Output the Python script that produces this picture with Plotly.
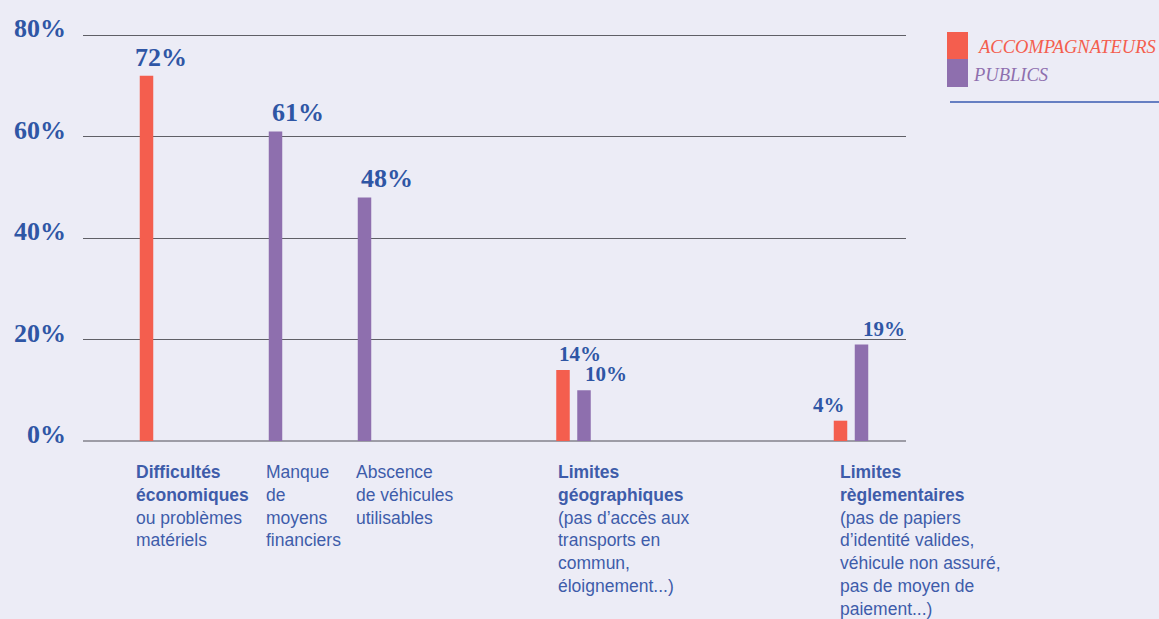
import plotly.graph_objects as go

# ---------------- data ----------------
categories = [
    "<b>Difficultés<br>économiques</b><br>ou problèmes<br>matériels",
    "Manque<br>de<br>moyens<br>financiers",
    "Abscence<br>de véhicules<br>utilisables",
    "<b>Limites<br>géographiques</b><br>(pas d’accès aux<br>transports en<br>commun,<br>éloignement...)",
    "<b>Limites<br>règlementaires</b><br>(pas de papiers<br>d’identité valides,<br>véhicule non assuré,<br>pas de moyen de<br>paiement...)",
]
accompagnateurs = [72, None, None, 14, 4]
publics = [None, 61, 48, 10, 19]
series_names = ["ACCOMPAGNATEURS", "PUBLICS"]
y_ticks = [0, 20, 40, 60, 80]
y_tick_labels = ["0%", "20%", "40%", "60%", "80%"]

# ---------------- layout constants ----------------
W, H = 1159, 619
ML, MR, MT, MB = 83, 253, 30, 178
PW, PH = W - ML - MR, H - MT - MB
Y_MAX = 81
group_centers = [63.5, 192.5, 281.5, 490.5, 768]
pair_offset = 10.5
bar_w = 13.5
label_x = [51, 181, 271, 473, 755]

BG = "#ECECF6"
RED = "#F45E4E"
PURPLE = "#8E6FAE"
BLUE = "#2F56A5"
CAT_BLUE = "#3E5CAA"


def bar_positions(a_vals, p_vals):
    ax, px = [], []
    for c, a, p in zip(group_centers, a_vals, p_vals):
        if a is not None and p is not None:
            ax.append(c - pair_offset)
            px.append(c + pair_offset)
        else:
            ax.append(c)
            px.append(c)
    return ax, px


acc_x, pub_x = bar_positions(accompagnateurs, publics)

fig = go.Figure()
fig.add_trace(go.Bar(x=acc_x, y=accompagnateurs, width=bar_w, marker_color=RED,
                     marker_line_width=0, name=series_names[0], showlegend=False,
                     hoverinfo="skip"))
fig.add_trace(go.Bar(x=pub_x, y=publics, width=bar_w, marker_color=PURPLE,
                     marker_line_width=0, name=series_names[1], showlegend=False,
                     hoverinfo="skip"))

annotations = []
# value labels
for xs, vals, series in ((acc_x, accompagnateurs, 0), (pub_x, publics, 1)):
    for i, (x, v) in enumerate(zip(xs, vals)):
        if v is None:
            continue
        paired = accompagnateurs[i] is not None and publics[i] is not None
        big = not paired
        size = 26 if big else 21
        if paired and series == 0 and v < 10:
            anchor, xx, xs_ = "right", x + bar_w / 2, 0
        else:
            anchor, xx = "left", x - bar_w / 2
            xs_ = -7 if (big and i == 0) else (6 if (paired and series == 1) else 1)
        annotations.append(dict(
            x=xx, y=v, xref="x", yref="y", text=f"{v}%", showarrow=False,
            xanchor=anchor, yanchor="bottom", xshift=xs_, yshift=2 if big else 2,
            font=dict(family="Liberation Serif", size=size, color=BLUE, weight="bold"),
        ))


def pxx(p):
    return (p - ML) / PW


def pxy(q):
    return (H - MB - q) / PH


# category labels
for lx, txt in zip(label_x, categories):
    annotations.append(dict(
        x=lx, y=pxy(460), xref="x", yref="paper", text=txt, showarrow=False,
        xanchor="left", yanchor="top", align="left",
        font=dict(family="Liberation Sans", size=17.5, color=CAT_BLUE),
    ))

# legend
annotations.append(dict(x=pxx(975), y=pxy(47), xref="paper", yref="paper",
                        text=series_names[0], showarrow=False, xanchor="left", yanchor="middle",
                        font=dict(family="Liberation Serif", size=18.5, color=RED, style="italic")))
annotations.append(dict(x=pxx(971), y=pxy(75), xref="paper", yref="paper",
                        text=series_names[1], showarrow=False, xanchor="left", yanchor="middle",
                        font=dict(family="Liberation Serif", size=18.5, color=PURPLE, style="italic")))

shapes = [
    dict(type="rect", xref="paper", yref="paper", x0=pxx(947), x1=pxx(968),
         y0=pxy(59), y1=pxy(32), fillcolor=RED, line_width=0),
    dict(type="rect", xref="paper", yref="paper", x0=pxx(947), x1=pxx(968),
         y0=pxy(87), y1=pxy(59), fillcolor=PURPLE, line_width=0),
    dict(type="line", xref="paper", yref="paper", x0=pxx(950), x1=pxx(1159),
         y0=pxy(102), y1=pxy(102), line=dict(color="#3A5BB0", width=1.5)),
]

fig.update_layout(
    width=W, height=H,
    margin=dict(l=ML, r=MR, t=MT, b=MB, autoexpand=False),
    paper_bgcolor=BG, plot_bgcolor=BG,
    barmode="overlay",
    showlegend=False,
    annotations=annotations,
    shapes=shapes,
    xaxis=dict(range=[0, PW], showgrid=False, zeroline=False, showticklabels=False,
               ticks="", fixedrange=True),
    yaxis=dict(range=[0, Y_MAX], tickvals=y_ticks, ticktext=y_tick_labels,
               showgrid=True, gridcolor="#5F5F66", gridwidth=1,
               zeroline=True, zerolinecolor="#9D9CA6", zerolinewidth=2,
               ticks="", ticklabelstandoff=16, ticklabelshift=-7,
               tickfont=dict(family="Liberation Serif", size=26, color=BLUE, weight="bold"),
               fixedrange=True),
)

fig.write_html(
    "out.html",
    config={"displayModeBar": False},
    post_script="document.body.style.margin='0';document.body.style.background='%s';" % BG,
)
